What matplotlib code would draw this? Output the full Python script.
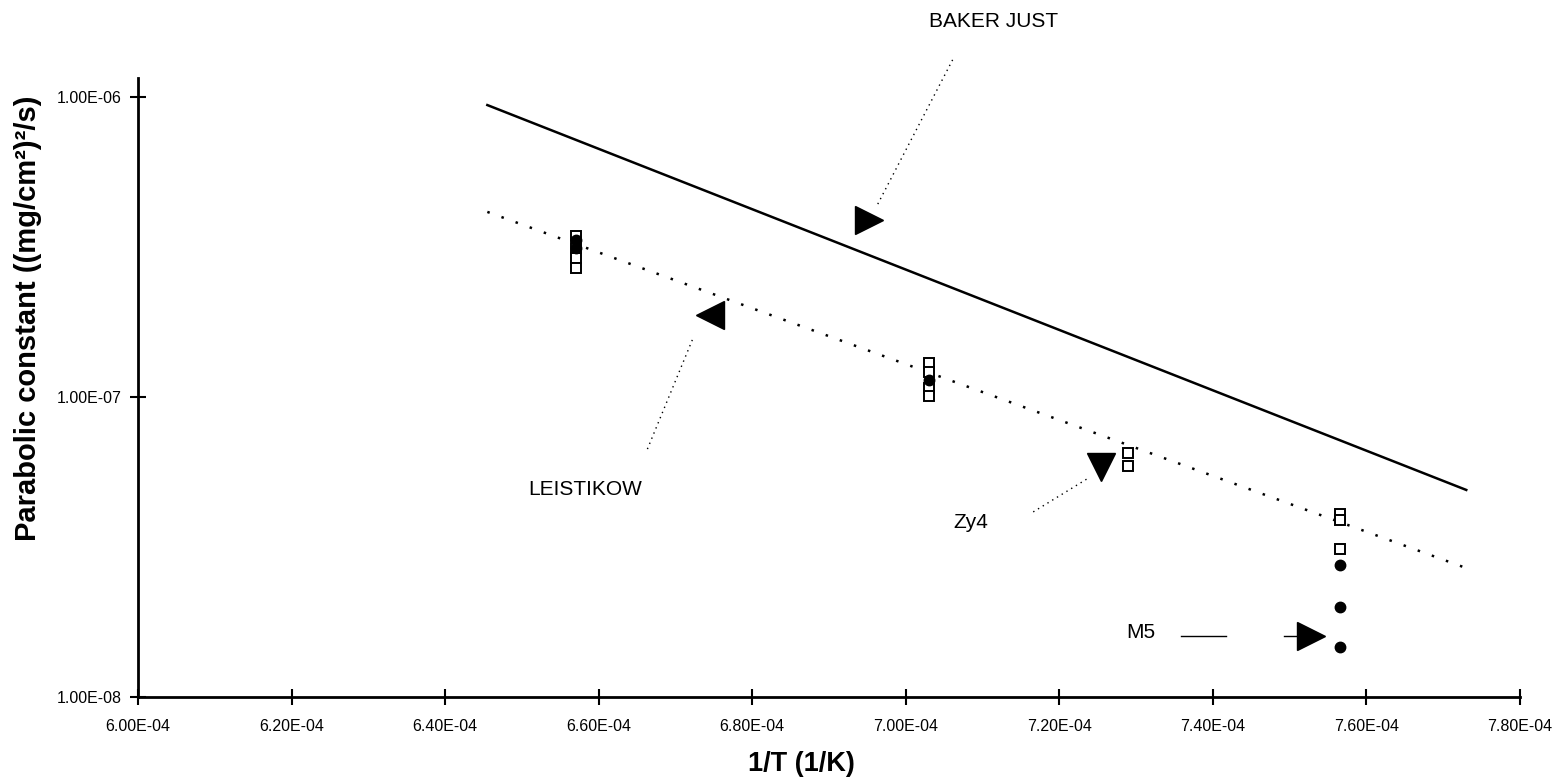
import numpy as np
import matplotlib
matplotlib.use('Agg')
import matplotlib.pyplot as plt

plt.rcParams['font.family'] = ['Liberation Sans', 'DejaVu Sans']

# Arrhenius correlations (end points)
baker_x = [6.455e-4, 7.73e-4]
baker_y = [9.4e-7, 4.9e-8]
leist_x = [6.455e-4, 7.73e-4]
leist_y = [4.14e-7, 2.69e-8]

# measured points: Zy4 (open squares)
zy4_x = [6.57e-4, 6.57e-4, 6.57e-4, 6.57e-4,
         7.03e-4, 7.03e-4, 7.03e-4, 7.03e-4,
         7.29e-4, 7.29e-4,
         7.565e-4, 7.565e-4, 7.565e-4]
zy4_y = [3.44e-7, 3.14e-7, 2.91e-7, 2.69e-7,
         1.30e-7, 1.21e-7, 1.07e-7, 1.01e-7,
         6.5e-8, 5.89e-8,
         4.07e-8, 3.89e-8, 3.11e-8]

# measured points: M5 (filled circles)
m5_x = [6.57e-4, 6.57e-4, 7.03e-4, 7.565e-4, 7.565e-4, 7.565e-4]
m5_y = [3.34e-7, 3.14e-7, 1.14e-7, 2.75e-8, 2.0e-8, 1.47e-8]

xticks = [6.0e-4, 6.2e-4, 6.4e-4, 6.6e-4, 6.8e-4, 7.0e-4, 7.2e-4, 7.4e-4, 7.6e-4, 7.8e-4]
xlabels = ['6.00E-04', '6.20E-04', '6.40E-04', '6.60E-04', '6.80E-04',
           '7.00E-04', '7.20E-04', '7.40E-04', '7.60E-04', '7.80E-04']
yticks = [1e-8, 1e-7, 1e-6]
ylabels = ['1.00E-08', '1.00E-07', '1.00E-06']

fig = plt.figure(figsize=(15.65, 7.8), dpi=100)
ax = fig.add_axes([138 / 1565, 83 / 780, 1382 / 1565, 619 / 780])

ax.plot(baker_x, baker_y, 'k-', lw=1.8)
ax.plot(leist_x, leist_y, color='k', ls=(0, (1, 5)), lw=1.8)
ax.plot(zy4_x, zy4_y, 's', mfc='white', mec='k', ms=7, mew=1.4, ls='none')
ax.plot(m5_x, m5_y, 'o', color='k', ms=7.5, ls='none')

ax.set_yscale('log')
ax.set_xlim(6.0e-4, 7.8e-4)
ax.set_ylim(1e-8, 10 ** (-6 + 19 / 300))
ax.set_xticks(xticks, labels=xlabels)
ax.set_yticks(yticks, labels=ylabels)
ax.minorticks_off()
ax.tick_params(direction='inout', length=12, width=1.5, labelsize=11.5)
ax.tick_params(axis='x', pad=10)
ax.tick_params(axis='y', pad=6)
for s in ['top', 'right']:
    ax.spines[s].set_visible(False)
for s in ['left', 'bottom']:
    ax.spines[s].set_linewidth(2)

ax.set_xlabel('1/T (1/K)', fontsize=19.5, fontweight='bold', va='center')
ax.xaxis.set_label_coords(0.48, -0.108)
ax.set_ylabel('Parabolic constant ((mg/cm²)²/s)', fontsize=21,
              fontweight='bold')
ax.yaxis.set_label_coords(-0.0695, 0.612)

# annotations: leader lines, triangles and labels
lead = dict(color='k', lw=1, ls=(0, (1, 3)), clip_on=False)
ax.plot([7.061e-4, 6.963e-4], [1.33e-6, 4.37e-7], **lead)
ax.plot([6.722e-4, 6.663e-4], [1.55e-7, 6.66e-8], **lead)
ax.plot([7.166e-4, 7.238e-4], [4.14e-8, 5.37e-8], **lead)
ax.plot([7.359e-4, 7.417e-4], [1.6e-8, 1.6e-8], 'k-', lw=1)
ax.plot([7.493e-4, 7.512e-4], [1.6e-8, 1.6e-8], 'k-', lw=1)

tri = dict(color='k', ms=20, ls='none', clip_on=False)
ax.plot([6.952e-4], [3.89e-7], marker='>', **tri)
ax.plot([6.745e-4], [1.88e-7], marker='<', **tri)
ax.plot([7.254e-4], [5.84e-8], marker='v', **tri)
ax.plot([7.528e-4], [1.6e-8], marker='>', **tri)

ax.text(7.114e-4, 1.78e-6, 'BAKER JUST', fontsize=15, ha='center', va='center', clip_on=False)
ax.text(6.582e-4, 4.9e-8, 'LEISTIKOW', fontsize=15, ha='center', va='center')
ax.text(7.085e-4, 3.83e-8, 'Zy4', fontsize=15, ha='center', va='center')
ax.text(7.306e-4, 1.64e-8, 'M5', fontsize=15, ha='center', va='center')

fig.savefig('out.png', dpi=100)
